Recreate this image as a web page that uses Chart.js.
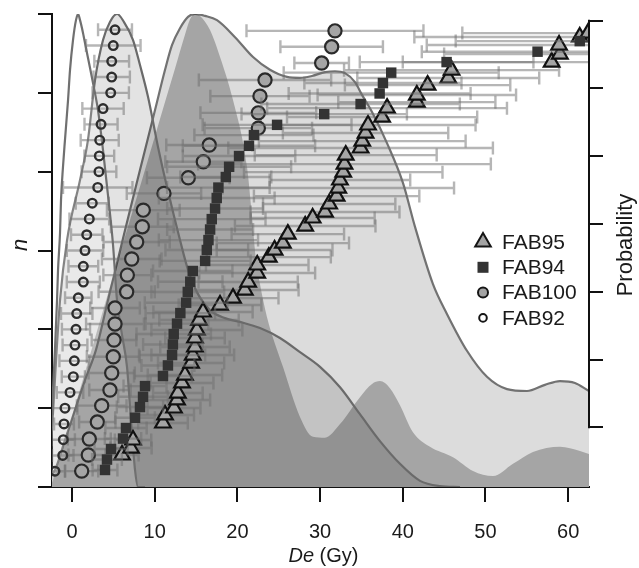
<!DOCTYPE html>
<html><head><meta charset="utf-8">
<script src="https://cdn.jsdelivr.net/npm/chart.js@4.4.1/dist/chart.umd.min.js"></script>
<style>html,body{margin:0;padding:0;background:#fff;overflow:hidden}</style>
</head><body>
<canvas id="c" width="639" height="568"></canvas>
<script>
// ---------- tick labels ----------
const xTicks = [0, 10, 20, 30, 40, 50, 60];
const nTicks = [0, 5, 10, 15, 20, 25, 30];
const probTicks = [0, 1, 2, 3, 4, 5, 6];

// ---------- FAB92 (small open circles) ----------
const fab92De = [-2.06,-1.12,-1.05,-0.97,-0.85,-0.24,0.16,0.28,0.36,0.48,0.57,0.76,1.37,1.37,1.57,1.78,2.09,2.45,3.11,3.26,3.30,3.35,3.51,3.75,4.68,4.80,4.80,4.99,5.20];
const fab92N  = [1,2,3,4,5,6,7,8,9,10,11,12,13,14,15,16,17,18,19,20,21,22,23,24,25,26,27,28,29];
const fab92Err= [1.2,1.3,1.4,1.2,1.5,1.6,1.4,1.8,1.5,1.7,1.9,1.6,2.0,1.8,2.2,1.9,2.4,2.0,4.2,2.1,1.8,2.3,2.0,2.5,2.2,2.2,2.1,3.3,2.05];

// ---------- FAB100 (grey circles) ----------
const fab100De = [1.17,1.97,2.09,3.06,3.59,4.59,4.80,4.99,5.08,5.20,5.20,6.61,6.69,7.22,7.82,8.50,8.62,11.12,14.06,15.88,16.60,22.53,22.53,22.73,23.34,30.19,31.40,31.80];
const fab100N  = [1.01,2.03,3.04,4.12,5.16,6.15,7.23,8.26,9.32,10.34,11.35,12.38,13.44,14.46,15.54,16.51,17.56,18.62,19.61,20.63,21.69,22.76,23.73,24.79,25.81,26.89,27.92,28.93];
const fab100Err= [2.0,2.4,2.6,2.2,3.0,2.5,2.8,3.2,2.7,3.5,3.0,3.4,2.9,3.6,4.0,3.8,4.4,4.5,5.0,4.6,5.2,6.5,7.0,6.0,8.0,3.3,6.2,10.7];

// ---------- FAB94 (black squares) ----------
const fab94De = [3.99,4.23,4.72,6.17,6.53,7.62,8.22,8.59,8.83,11.0,11.6,12.1,12.2,12.3,12.7,13.1,13.8,14.0,14.3,14.6,16.1,16.3,16.5,16.7,16.9,17.3,17.5,17.7,18.6,19.0,20.2,21.4,22.0,24.8,30.5,34.9,37.2,37.6,38.6,45.3,56.3,61.4];
const fab94N  = [1.08,1.74,2.41,3.07,3.74,4.39,5.07,5.72,6.40,7.04,7.71,8.37,9.04,9.70,10.36,11.03,11.69,12.37,13.02,13.70,14.34,15.03,15.66,16.33,16.99,17.66,18.33,18.99,19.66,20.31,20.99,21.64,22.32,22.97,23.65,24.29,24.96,25.62,26.28,26.95,27.61,28.28];
const fab94Err= [1.5,1.8,2.0,2.2,2.5,2.4,2.8,3.0,2.6,3.5,3.2,4.0,3.6,4.5,3.8,4.2,5.0,4.4,3.9,4.8,5.5,5.0,6.0,5.2,6.5,5.8,7.0,6.2,5.5,7.5,6.8,8.0,7.2,9.0,10.0,12.0,11.0,9.5,13.0,10.5,14.0,15.0];

// ---------- FAB95 (grey triangles) ----------
const fab95De = [6.05,7.13,7.38,11.0,11.25,12.33,12.7,12.8,13.3,13.66,14.4,14.6,14.87,14.87,15.1,15.36,15.84,17.9,19.47,20.9,21.3,22.4,22.4,23.8,24.5,25.5,26.1,28.2,29.1,30.6,31.1,32.0,32.2,32.4,32.8,32.95,33.1,34.9,35.1,35.5,35.8,37.5,38.1,41.7,41.7,43.0,45.5,45.9,58.0,59.0,58.9,61.4,62.4];
const fab95N  = [2.03,2.47,2.98,4.06,4.57,5.01,5.52,5.96,6.60,7.10,7.86,8.37,8.88,9.45,9.96,10.59,11.10,11.54,11.98,12.49,13.00,13.57,14.08,14.58,15.03,15.47,16.04,16.55,17.06,17.44,17.95,18.45,18.96,19.47,19.97,20.48,21.05,21.50,21.94,22.45,22.96,23.46,24.03,24.41,24.86,25.49,25.94,26.44,26.95,27.46,28.03,28.54,28.79];
const fab95Err= [2.0,2.5,2.2,3.0,3.5,3.2,4.0,3.0,3.8,4.5,4.0,5.0,4.2,3.6,5.5,4.8,6.0,5.0,5.5,6.5,6.0,7.0,6.2,7.5,7.0,8.0,6.8,8.5,7.5,9.0,8.0,10.0,14.0,8.5,12.0,17.7,11.0,16.0,12.5,10.0,13.0,11.5,14.5,9.5,12.0,10.0,11.0,13.0,18.0,14.0,16.0,20.0,15.2];

// ---------- probability density curves (relative probability) ----------
const dens92De = [-3.02,-2.78,-2.54,-2.30,-2.06,-1.81,-1.69,-1.45,-1.33,-1.09,-0.85,-0.48,-0.24,0.12,0.48,0.73,0.97,1.33,1.69,2.18,2.54,3.14,3.75,4.35,4.96,5.44,6.05,6.65,7.13,7.62,7.98,8.83];
const dens92P  = [0,0.036,0.121,0.205,0.290,0.395,0.459,0.537,0.607,0.677,0.734,0.818,0.882,0.945,0.987,1.0,0.987,0.960,0.928,0.886,0.854,0.797,0.712,0.617,0.512,0.395,0.321,0.254,0.142,0.036,0,0];

const dens100De = [-3.02,-2.66,-2.30,-1.93,-1.45,-0.60,0.97,1.93,2.78,3.75,4.59,5.44,6.29,7.38,8.22,9.19,10.40,11.49,13.06,14.03,15.11,16.69,18.50,20.31,22.73,25.15,27.57,29.99,32.41,34.82,37.24,39.66,42.08,44.50,46.92];
const dens100P  = [0,0.078,0.156,0.268,0.395,0.522,0.649,0.734,0.860,0.945,0.983,1.0,0.983,0.945,0.892,0.825,0.719,0.634,0.522,0.459,0.412,0.374,0.357,0.349,0.336,0.315,0.285,0.254,0.211,0.154,0.097,0.049,0.013,0.002,0];

const dens94De = [-2.66,-2.30,0.97,4.72,8.46,10.64,12.45,13.66,14.27,14.87,15.48,16.69,17.90,19.47,21.16,21.77,22.25,22.73,23.58,25.51,27.57,29.14,30.59,32.41,34.82,36.28,37.24,38.45,39.66,41.23,43.29,46.07,48.49,50.91,53.33,55.74,59.01,61.43,62.52,63.85];
const dens94P  = [0,0.015,0.207,0.431,0.649,0.778,0.884,0.956,0.989,1.0,0.996,0.966,0.909,0.818,0.677,0.571,0.480,0.429,0.359,0.254,0.148,0.106,0.104,0.133,0.190,0.218,0.224,0.209,0.173,0.116,0.085,0.063,0.034,0.023,0.049,0.074,0.085,0.076,0.070,0.066];

const dens95De = [-3.87,-2.06,-0.85,0.36,1.57,2.90,4.35,6.41,8.22,10.04,11.25,12.09,13.06,14.03,14.87,16.08,17.53,19.71,21.89,23.94,26.00,27.57,29.02,30.59,31.80,33.01,34.22,35.07,36.28,38.09,40.02,41.48,43.65,45.34,47.76,50.18,52.60,55.02,57.19,59.01,60.82,62.52,63.85];
const dens95P  = [0,0.036,0.099,0.163,0.226,0.290,0.395,0.543,0.670,0.797,0.882,0.934,0.970,0.994,1.0,0.996,0.987,0.951,0.909,0.882,0.867,0.865,0.869,0.877,0.879,0.875,0.856,0.829,0.793,0.727,0.643,0.550,0.429,0.366,0.288,0.233,0.207,0.203,0.216,0.224,0.220,0.203,0.192];

// ---------- helpers ----------
const FONT = '"Liberation Sans", Arial, Helvetica, sans-serif';
const pts = (xs, ys) => xs.map((v, i) => ({x: v, y: ys[i]}));

function densityDataset(label, xs, ys, fillColor, lineColor, lineWidth, order) {
  return {
    type: 'line', label, data: pts(xs, ys), yAxisID: 'yd',
    borderColor: lineColor, borderWidth: lineWidth, backgroundColor: fillColor,
    fill: 'origin', pointRadius: 0, cubicInterpolationMode: 'monotone', order
  };
}
function pointDataset(label, xs, ys, errs, style, radius, bg, border, bw, order) {
  return {
    type: 'scatter', label, data: pts(xs, ys), yAxisID: 'y', errX: errs,
    pointStyle: style, pointRadius: radius, backgroundColor: bg,
    borderColor: border, borderWidth: bw, showLine: false, order
  };
}

const errorBars = {
  id: 'errorBars',
  beforeDatasetDraw(chart, args) {
    const ds = chart.data.datasets[args.index];
    if (!ds.errX) return;
    const {ctx, chartArea: a, scales: {x, y}} = chart;
    ctx.save();
    ctx.beginPath(); ctx.rect(a.left, a.top, a.right - a.left, a.bottom - a.top); ctx.clip();
    ctx.strokeStyle = 'rgba(110,110,110,0.5)';
    ctx.lineWidth = 2.4;
    ds.data.forEach((p, i) => {
      const e = ds.errX[i];
      const x0 = x.getPixelForValue(p.x - e), x1 = x.getPixelForValue(p.x + e);
      const py = y.getPixelForValue(p.y);
      ctx.beginPath();
      ctx.moveTo(x0, py); ctx.lineTo(x1, py);
      ctx.moveTo(x0, py - 6.5); ctx.lineTo(x0, py + 6.5);
      ctx.moveTo(x1, py - 6.5); ctx.lineTo(x1, py + 6.5);
      ctx.stroke();
    });
    ctx.restore();
  }
};

const legendItems = [
  {label: 'FAB95', style: 'triangle'},
  {label: 'FAB94', style: 'square'},
  {label: 'FAB100', style: 'circle'},
  {label: 'FAB92', style: 'smallcircle'}
];

const decor = {
  id: 'decor',
  afterDraw(chart) {
    const {ctx, chartArea: a, scales} = chart;
    const yr = scales.yr;
    ctx.save();
    ctx.strokeStyle = '#111'; ctx.lineWidth = 2;
    ctx.beginPath();
    ctx.moveTo(a.right, yr.getPixelForValue(probTicks[0]) + 1);
    ctx.lineTo(a.right, yr.getPixelForValue(probTicks[probTicks.length - 1]) - 1);
    ctx.stroke();

    ctx.fillStyle = '#1a1a1a';
    ctx.textBaseline = 'alphabetic';
    const f1 = 'italic 20px ' + FONT, f2 = '20px ' + FONT;
    ctx.font = f1; const w1 = ctx.measureText('De').width;
    ctx.font = f2; const w2 = ctx.measureText(' (Gy)').width;
    const cx = (a.left + a.right) / 2 + 3;
    const sx = cx - (w1 + w2) / 2;
    ctx.font = f1; ctx.textAlign = 'left'; ctx.fillText('De', sx, 562);
    ctx.font = f2; ctx.fillText(' (Gy)', sx + w1, 562);

    ctx.save();
    ctx.translate(21, 245); ctx.rotate(-Math.PI / 2);
    ctx.font = 'italic 22px ' + FONT; ctx.textAlign = 'center'; ctx.textBaseline = 'middle';
    ctx.fillText('n', 0, 0);
    ctx.restore();

    ctx.save();
    ctx.translate(626, 245); ctx.rotate(-Math.PI / 2);
    ctx.font = '22px ' + FONT; ctx.textAlign = 'center'; ctx.textBaseline = 'middle';
    ctx.fillText('Probability', 0, 0);
    ctx.restore();

    const lx = 483, ly0 = 242, dy = 25.3;
    legendItems.forEach((it, i) => {
      const yy = ly0 + i * dy;
      ctx.lineWidth = 2;
      ctx.strokeStyle = '#151515';
      if (it.style === 'triangle') {
        const r = 9;
        ctx.beginPath();
        ctx.moveTo(lx, yy - r);
        ctx.lineTo(lx + r * 0.866, yy + r * 0.5);
        ctx.lineTo(lx - r * 0.866, yy + r * 0.5);
        ctx.closePath();
        ctx.fillStyle = '#a3a3a3'; ctx.fill(); ctx.stroke();
      } else if (it.style === 'square') {
        ctx.fillStyle = '#333'; ctx.fillRect(lx - 5.5, yy - 5.5, 11, 11);
      } else if (it.style === 'circle') {
        ctx.beginPath(); ctx.arc(lx, yy, 5, 0, Math.PI * 2);
        ctx.fillStyle = '#a3a3a3'; ctx.fill(); ctx.stroke();
      } else {
        ctx.beginPath(); ctx.arc(lx, yy, 3.8, 0, Math.PI * 2);
        ctx.fillStyle = '#fff'; ctx.fill(); ctx.stroke();
      }
      ctx.fillStyle = '#1a1a1a';
      ctx.font = '21px ' + FONT; ctx.textAlign = 'left'; ctx.textBaseline = 'middle';
      ctx.fillText(it.label, 502, yy + 1);
    });
    ctx.restore();
  }
};

const setTicks = arr => scale => { scale.ticks = arr.map(v => ({value: v})); };

new Chart(document.getElementById('c'), {
  type: 'line',
  data: {
    datasets: [
      pointDataset('FAB92', fab92De, fab92N, fab92Err, 'circle', 4.3, 'rgba(255,255,255,0.15)', '#2e2e2e', 2.4, 0),
      pointDataset('FAB94', fab94De, fab94N, fab94Err, 'rect', 7.4, '#333333', '#333333', 0, 1),
      pointDataset('FAB100', fab100De, fab100N, fab100Err, 'circle', 6.6, '#a5a5a5', '#2a2a2a', 2.2, 2),
      pointDataset('FAB95', fab95De, fab95N, fab95Err, 'triangle', 9, '#a5a5a5', '#111111', 2.2, 3),
      densityDataset('FAB92 density', dens92De, dens92P, 'rgba(255,255,255,0.18)', '#707070', 2.2, 4),
      densityDataset('FAB100 density', dens100De, dens100P, 'rgba(0,0,0,0.11)', '#6a6a6a', 2.2, 5),
      densityDataset('FAB94 density', dens94De, dens94P, 'rgba(0,0,0,0.25)', 'rgba(0,0,0,0)', 0, 6),
      densityDataset('FAB95 density', dens95De, dens95P, '#dcdcdc', '#727272', 2.2, 7)
    ]
  },
  options: {
    responsive: false, animation: false, devicePixelRatio: 1, events: [],
    layout: {padding: {top: 14, left: 0, right: 0, bottom: 0}},
    plugins: {legend: {display: false}, tooltip: {enabled: false}},
    scales: {
      x: {
        type: 'linear', position: 'bottom', min: -2.42, max: 62.52,
        afterBuildTicks: setTicks(xTicks),
        afterFit: s => { s.height = 81; },
        grid: {drawOnChartArea: false, drawTicks: true, tickLength: 15, color: '#111', lineWidth: 2},
        border: {display: true, color: '#111', width: 2},
        ticks: {font: {family: FONT, size: 20}, color: '#1a1a1a', padding: 18, maxRotation: 0}
      },
      y: {
        type: 'linear', position: 'left', min: 0, max: 30,
        afterBuildTicks: setTicks(nTicks),
        afterFit: s => { s.width = 52; },
        grid: {drawOnChartArea: false, drawTicks: true, tickLength: 14, color: '#111', lineWidth: 2},
        border: {display: true, color: '#111', width: 2},
        ticks: {display: false}
      },
      yr: {
        type: 'linear', position: 'right', min: -0.881, max: 6.099,
        afterBuildTicks: setTicks(probTicks),
        afterFit: s => { s.width = 50; },
        grid: {drawOnChartArea: false, drawTicks: true, tickLength: 14, color: '#111', lineWidth: 2},
        border: {display: false},
        ticks: {display: false}
      },
      yd: {type: 'linear', display: false, min: 0, max: 1}
    }
  },
  plugins: [errorBars, decor]
});
</script>
</body></html>
